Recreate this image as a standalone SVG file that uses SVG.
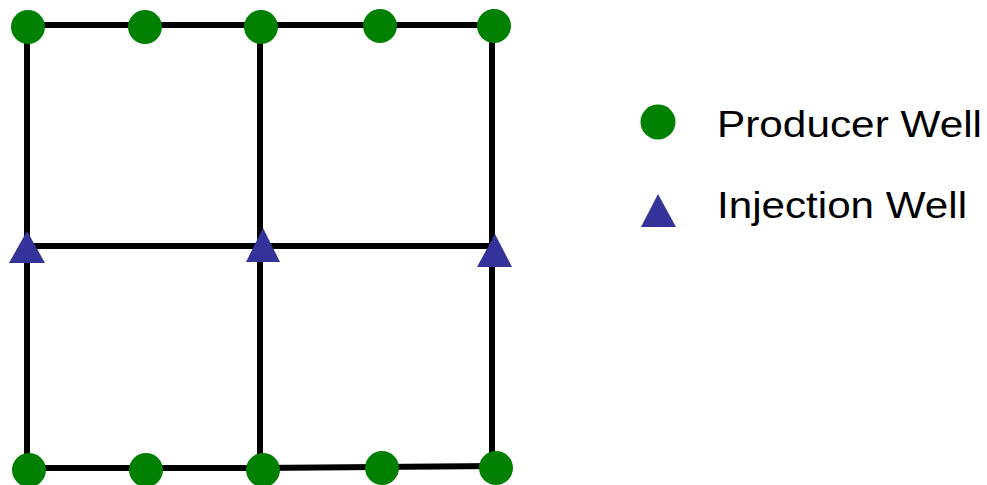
<svg xmlns="http://www.w3.org/2000/svg" width="987" height="485" viewBox="0 0 987 485">
<style>
.ln{stroke:#000;stroke-width:6;fill:none;stroke-linecap:square}
.prod{fill:#008000}
.inj{fill:#333399}
.lbl{font-family:"Liberation Sans",Arial,sans-serif;font-size:36px;fill:#000}
</style>
<rect width="987" height="485" fill="#fff"/>
<g id="connectors">
<line class="ln" x1="27" y1="25" x2="492" y2="25"/>
<line class="ln" x1="27" y1="246" x2="492" y2="246"/>
<path class="ln" d="M27 468 L260 468 L492 466"/>
<line class="ln" x1="27" y1="25" x2="27" y2="468"/>
<line class="ln" x1="260" y1="25" x2="260" y2="468"/>
<line class="ln" x1="492" y1="25" x2="492" y2="466"/>
</g>
<g id="p1"><circle class="prod" cx="28" cy="27" r="17"/></g>
<g id="p2"><circle class="prod" cx="145" cy="27" r="17"/></g>
<g id="p3"><circle class="prod" cx="261" cy="27" r="17"/></g>
<g id="p4"><circle class="prod" cx="380" cy="26" r="17"/></g>
<g id="p5"><circle class="prod" cx="494" cy="26" r="17"/></g>
<g id="p6"><circle class="prod" cx="29" cy="470" r="17"/></g>
<g id="p7"><circle class="prod" cx="146" cy="470" r="17"/></g>
<g id="p8"><circle class="prod" cx="263" cy="470" r="17"/></g>
<g id="p9"><circle class="prod" cx="382" cy="468" r="17"/></g>
<g id="p10"><circle class="prod" cx="496" cy="468" r="17"/></g>
<g id="i1"><polygon class="inj" points="27,231 9,263 45,263"/></g>
<g id="i2"><polygon class="inj" points="263,228 246,262 280,262"/></g>
<g id="i3"><polygon class="inj" points="495,234 477,267 512,267"/></g>
<g id="legend">
<circle class="prod" cx="658" cy="122" r="17.5"/>
<polygon class="inj" points="658,194 641,227 676,227"/>
<text class="lbl" x="717" y="137" textLength="265" lengthAdjust="spacingAndGlyphs">Producer Well</text>
<text class="lbl" x="717" y="218" textLength="250" lengthAdjust="spacingAndGlyphs">Injection Well</text>
</g>
</svg>
